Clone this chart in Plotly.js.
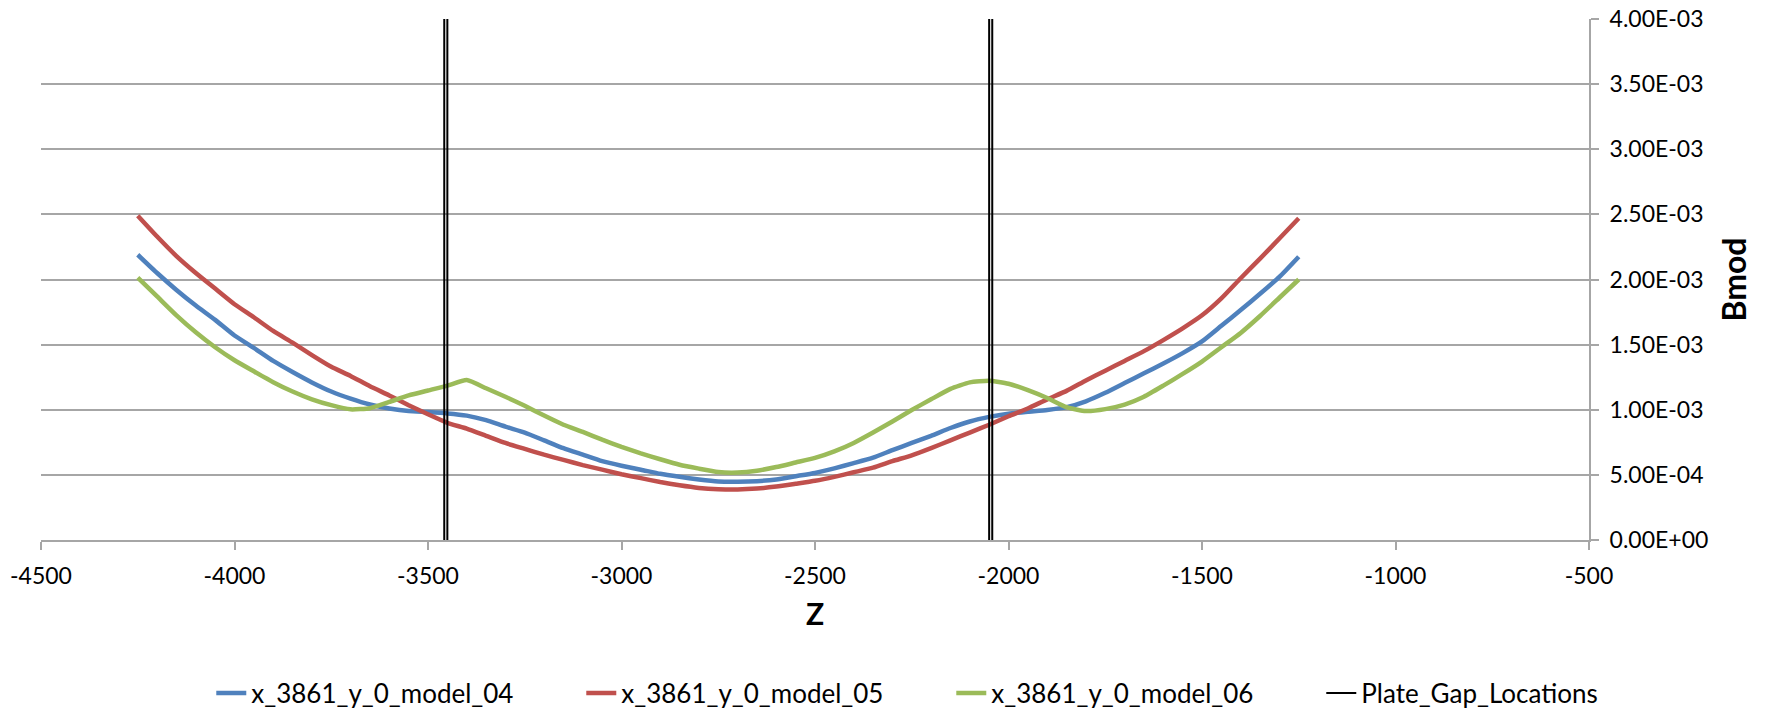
<!DOCTYPE html>
<html>
<head>
<meta charset="utf-8">
<script src="https://cdn.plot.ly/plotly-3.0.1.min.js"></script>
<style>html,body{margin:0;padding:0;background:#fff;}#chart{width:1770px;height:708px;}</style>
</head>
<body>
<div id="chart"></div>
<script>
const Z = [-4250,-4200,-4150,-4100,-4050,-4000,-3950,-3900,-3850,-3800,-3750,-3700,-3650,-3600,-3550,-3500,-3450,-3400,-3350,-3300,-3250,-3200,-3150,-3100,-3050,-3000,-2950,-2900,-2850,-2800,-2750,-2700,-2650,-2600,-2550,-2500,-2450,-2400,-2350,-2300,-2250,-2200,-2150,-2100,-2050,-2000,-1950,-1900,-1850,-1800,-1750,-1700,-1650,-1600,-1550,-1500,-1450,-1400,-1350,-1300,-1250];

const model04 = [2.19e-3,2.05e-3,1.92e-3,1.80e-3,1.69e-3,1.57e-3,1.475e-3,1.375e-3,1.29e-3,1.21e-3,1.14e-3,1.085e-3,1.04e-3,1.01e-3,0.99e-3,0.982e-3,0.972e-3,0.955e-3,0.92e-3,0.87e-3,0.825e-3,0.765e-3,0.705e-3,0.655e-3,0.605e-3,0.57e-3,0.54e-3,0.508e-3,0.485e-3,0.465e-3,0.45e-3,0.448e-3,0.452e-3,0.465e-3,0.49e-3,0.515e-3,0.55e-3,0.59e-3,0.632e-3,0.69e-3,0.745e-3,0.80e-3,0.86e-3,0.91e-3,0.945e-3,0.97e-3,0.985e-3,0.998e-3,1.02e-3,1.065e-3,1.13e-3,1.205e-3,1.28e-3,1.355e-3,1.435e-3,1.525e-3,1.645e-3,1.765e-3,1.89e-3,2.02e-3,2.175e-3];

const model05 = [2.49e-3,2.33e-3,2.18e-3,2.05e-3,1.93e-3,1.81e-3,1.71e-3,1.605e-3,1.515e-3,1.42e-3,1.33e-3,1.26e-3,1.18e-3,1.11e-3,1.035e-3,0.965e-3,0.90e-3,0.855e-3,0.80e-3,0.745e-3,0.70e-3,0.655e-3,0.615e-3,0.575e-3,0.54e-3,0.505e-3,0.475e-3,0.445e-3,0.42e-3,0.40e-3,0.39e-3,0.388e-3,0.395e-3,0.41e-3,0.432e-3,0.455e-3,0.485e-3,0.52e-3,0.555e-3,0.605e-3,0.65e-3,0.705e-3,0.765e-3,0.825e-3,0.885e-3,0.95e-3,1.01e-3,1.08e-3,1.145e-3,1.225e-3,1.30e-3,1.375e-3,1.45e-3,1.535e-3,1.625e-3,1.725e-3,1.855e-3,2.01e-3,2.16e-3,2.315e-3,2.47e-3];

const model06 = [2.015e-3,1.87e-3,1.725e-3,1.595e-3,1.48e-3,1.38e-3,1.295e-3,1.212e-3,1.14e-3,1.08e-3,1.035e-3,1.003e-3,1.012e-3,1.06e-3,1.11e-3,1.148e-3,1.185e-3,1.228e-3,1.165e-3,1.10e-3,1.03e-3,0.955e-3,0.885e-3,0.83e-3,0.77e-3,0.715e-3,0.665e-3,0.62e-3,0.578e-3,0.548e-3,0.522e-3,0.518e-3,0.532e-3,0.56e-3,0.595e-3,0.63e-3,0.68e-3,0.745e-3,0.825e-3,0.91e-3,0.998e-3,1.08e-3,1.16e-3,1.21e-3,1.223e-3,1.20e-3,1.15e-3,1.09e-3,1.02e-3,0.99e-3,1.005e-3,1.04e-3,1.10e-3,1.185e-3,1.275e-3,1.37e-3,1.48e-3,1.59e-3,1.72e-3,1.86e-3,2.00e-3];

const plateGapZ = [-3458, -3450, -2050, -2042];
const plateGapBottom = 0;
const plateGapTop = 4.0e-3;

const xTicks = [-4500,-4000,-3500,-3000,-2500,-2000,-1500,-1000,-500];
const yTicks = [0,0.5e-3,1.0e-3,1.5e-3,2.0e-3,2.5e-3,3.0e-3,3.5e-3,4.0e-3];
const yTickText = ["0.00E+00","5.00E-04","1.00E-03","1.50E-03","2.00E-03","2.50E-03","3.00E-03","3.50E-03","4.00E-03"];

const seriesNames = ["x_3861_y_0_model_04","x_3861_y_0_model_05","x_3861_y_0_model_06","Plate_Gap_Locations"];
const seriesColors = ["#4F81BD","#C0504D","#9BBB59","#000000"];

const gapX = [], gapY = [];
plateGapZ.forEach(z => { gapX.push(z, z, null); gapY.push(plateGapBottom, plateGapTop, null); });

const FONT = "Lato, 'Liberation Sans', sans-serif";
const gridCol = "#a6a6a6";

const mk = (y, i) => ({
  x: Z, y: y, type: "scatter", mode: "lines", name: seriesNames[i],
  line: {color: seriesColors[i], width: 4.5, shape: "spline", smoothing: 0.5}
});

const data = [
  mk(model04, 0), mk(model05, 1), mk(model06, 2),
  {x: gapX, y: gapY, type: "scatter", mode: "lines", name: seriesNames[3],
   connectgaps: false, line: {color: "#000000", width: 2}}
];

const layout = {
  width: 1770, height: 708,
  paper_bgcolor: "#ffffff", plot_bgcolor: "#ffffff",
  font: {family: FONT, size: 22, color: "#000"},
  margin: {l: 41, r: 181, t: 19, b: 168, autoexpand: false},
  showlegend: true,
  legend: {
    orientation: "h", x: 0.11, xanchor: "left", y: -0.294, yanchor: "middle",
    font: {family: FONT, size: 26, color: "#000"},
    entrywidth: 325, entrywidthmode: "pixels", itemwidth: 30,
    bgcolor: "rgba(0,0,0,0)"
  },
  xaxis: {
    range: [-4500, -500], tickmode: "array", tickvals: xTicks,
    ticktext: xTicks.map(String),
    showgrid: false, zeroline: false, showline: true, linecolor: gridCol, linewidth: 2,
    ticks: "outside", ticklen: 8, tickcolor: gridCol, tickwidth: 2,
    tickfont: {family: FONT, size: 23, color: "#000"},
    ticklabelstandoff: 6,
    title: {text: "<b>Z</b>", font: {family: FONT, size: 30, color: "#000"}, standoff: 16},
    automargin: false, fixedrange: true
  },
  yaxis: {
    side: "right", range: [0, 4.0e-3], tickmode: "array", tickvals: yTicks, ticktext: yTickText,
    showgrid: true, gridcolor: gridCol, gridwidth: 2,
    zeroline: false, showline: true, linecolor: gridCol, linewidth: 2,
    ticks: "outside", ticklen: 8, tickcolor: gridCol, tickwidth: 2,
    tickfont: {family: FONT, size: 23, color: "#000"},
    ticklabelstandoff: 6,
    title: {text: "<b>Bmod</b>", font: {family: FONT, size: 32, color: "#000"}, standoff: 16},
    automargin: false, fixedrange: true
  }
};

Plotly.newPlot("chart", data, layout, {displayModeBar: false, staticPlot: true});
</script>
</body>
</html>
